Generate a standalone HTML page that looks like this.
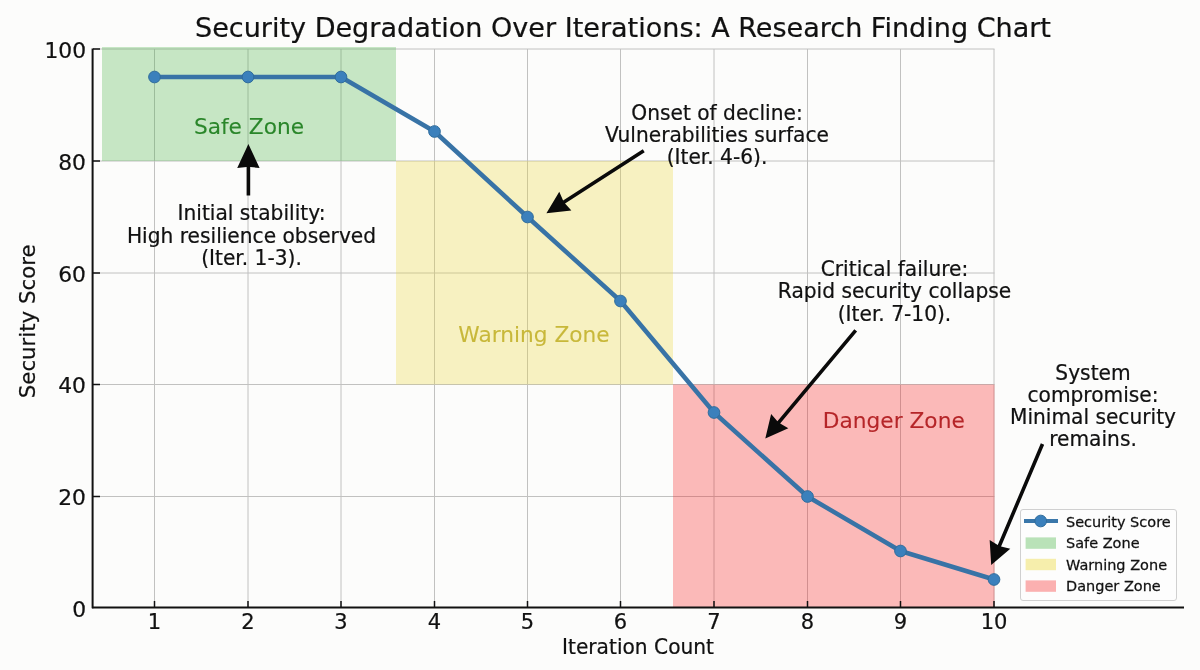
<!DOCTYPE html>
<html><head><meta charset="utf-8">
<style>
html,body{margin:0;padding:0;background:#fcfcfb;}
svg{display:block;}
text{font-family:"DejaVu Sans","Liberation Sans",sans-serif;}
</style></head>
<body>
<svg width="1200" height="670" viewBox="0 0 1200 670">
<rect x="0" y="0" width="1200" height="670" fill="#fcfcfb"/>
<g stroke="#9a9a9a" stroke-width="1" opacity="0.6">
<line x1="93" y1="49" x2="994.5" y2="49"/>
<line x1="93" y1="161" x2="994.5" y2="161"/>
<line x1="93" y1="273" x2="994.5" y2="273"/>
<line x1="93" y1="384.5" x2="994.5" y2="384.5"/>
<line x1="93" y1="496.5" x2="994.5" y2="496.5"/>
<line x1="154.5" y1="49" x2="154.5" y2="607"/>
<line x1="248" y1="49" x2="248" y2="607"/>
<line x1="341" y1="49" x2="341" y2="607"/>
<line x1="434.5" y1="49" x2="434.5" y2="607"/>
<line x1="527.5" y1="49" x2="527.5" y2="607"/>
<line x1="620.5" y1="49" x2="620.5" y2="607"/>
<line x1="714" y1="49" x2="714" y2="607"/>
<line x1="807.5" y1="49" x2="807.5" y2="607"/>
<line x1="900.5" y1="49" x2="900.5" y2="607"/>
<line x1="994" y1="49" x2="994" y2="607"/>
</g>
<rect x="102" y="47" width="294" height="114" fill="rgb(72,179,68)" fill-opacity="0.3"/>
<rect x="396" y="161" width="277" height="223.5" fill="rgb(235,215,61)" fill-opacity="0.3"/>
<rect x="673" y="384.5" width="321.5" height="223" fill="rgb(249,29,31)" fill-opacity="0.3"/>
<g stroke="#111" stroke-width="2" fill="none"><line x1="92.6" y1="48.5" x2="92.6" y2="608.3"/><line x1="92" y1="607.5" x2="1184" y2="607.5"/></g>
<g stroke="#111" stroke-width="1.5">
<line x1="93" y1="49" x2="100" y2="49"/>
<line x1="93" y1="161" x2="100" y2="161"/>
<line x1="93" y1="273" x2="100" y2="273"/>
<line x1="93" y1="384.5" x2="100" y2="384.5"/>
<line x1="93" y1="496.5" x2="100" y2="496.5"/>
<line x1="154.5" y1="601" x2="154.5" y2="607"/>
<line x1="248" y1="601" x2="248" y2="607"/>
<line x1="341" y1="601" x2="341" y2="607"/>
<line x1="434.5" y1="601" x2="434.5" y2="607"/>
<line x1="527.5" y1="601" x2="527.5" y2="607"/>
<line x1="620.5" y1="601" x2="620.5" y2="607"/>
<line x1="714" y1="601" x2="714" y2="607"/>
<line x1="807.5" y1="601" x2="807.5" y2="607"/>
<line x1="900.5" y1="601" x2="900.5" y2="607"/>
<line x1="994" y1="601" x2="994" y2="607"/>
</g>
<text transform="translate(86,57.7)" font-size="21.8" fill="#111" stroke="#111" stroke-width="0.22" text-anchor="end">100</text>
<text transform="translate(86,169.7)" font-size="21.8" fill="#111" stroke="#111" stroke-width="0.22" text-anchor="end">80</text>
<text transform="translate(86,281.7)" font-size="21.8" fill="#111" stroke="#111" stroke-width="0.22" text-anchor="end">60</text>
<text transform="translate(86,393.2)" font-size="21.8" fill="#111" stroke="#111" stroke-width="0.22" text-anchor="end">40</text>
<text transform="translate(86,505.2)" font-size="21.8" fill="#111" stroke="#111" stroke-width="0.22" text-anchor="end">20</text>
<text transform="translate(86,616.7)" font-size="21.8" fill="#111" stroke="#111" stroke-width="0.22" text-anchor="end">0</text>
<text transform="translate(154.5,629)" font-size="21" fill="#111" stroke="#111" stroke-width="0.22" text-anchor="middle">1</text>
<text transform="translate(248,629)" font-size="21" fill="#111" stroke="#111" stroke-width="0.22" text-anchor="middle">2</text>
<text transform="translate(341,629)" font-size="21" fill="#111" stroke="#111" stroke-width="0.22" text-anchor="middle">3</text>
<text transform="translate(434.5,629)" font-size="21" fill="#111" stroke="#111" stroke-width="0.22" text-anchor="middle">4</text>
<text transform="translate(527.5,629)" font-size="21" fill="#111" stroke="#111" stroke-width="0.22" text-anchor="middle">5</text>
<text transform="translate(620.5,629)" font-size="21" fill="#111" stroke="#111" stroke-width="0.22" text-anchor="middle">6</text>
<text transform="translate(714,629)" font-size="21" fill="#111" stroke="#111" stroke-width="0.22" text-anchor="middle">7</text>
<text transform="translate(807.5,629)" font-size="21" fill="#111" stroke="#111" stroke-width="0.22" text-anchor="middle">8</text>
<text transform="translate(900.5,629)" font-size="21" fill="#111" stroke="#111" stroke-width="0.22" text-anchor="middle">9</text>
<text transform="translate(994,629)" font-size="21" fill="#111" stroke="#111" stroke-width="0.22" text-anchor="middle">10</text>
<text transform="translate(638,654) scale(1,1.025)" font-size="20.2" fill="#111" stroke="#111" stroke-width="0.22" text-anchor="middle">Iteration Count</text>
<text transform="translate(34.6,321.3) rotate(-90) scale(1,1.025)" font-size="21.3" fill="#111" stroke="#111" stroke-width="0.22" text-anchor="middle">Security Score</text>
<text transform="translate(623,37) scale(1,1.01)" font-size="27.05" fill="#111" stroke="#111" stroke-width="0.22" text-anchor="middle">Security Degradation Over Iterations: A Research Finding Chart</text>
<text transform="translate(249,133.6) scale(1,1.01)" font-size="21.7" fill="#2a862a" stroke="#2a862a" stroke-width="0.1" text-anchor="middle">Safe Zone</text>
<text transform="translate(534,342) scale(1,1.01)" font-size="21.7" fill="#c8b83a" stroke="#c8b83a" stroke-width="0.1" text-anchor="middle">Warning Zone</text>
<text transform="translate(893.8,428) scale(1,1.01)" font-size="21.7" fill="#b52528" stroke="#b52528" stroke-width="0.1" text-anchor="middle">Danger Zone</text>
<polyline points="154.5,77 248,77 341,77 434.5,131.5 527.5,217 620.5,301 714,412.5 807.5,496.5 900.5,551 994,579.5" fill="none" stroke="#3873a6" stroke-width="4.5" stroke-linejoin="round"/>
<g fill="#3b80bc" stroke="#2f6c9c" stroke-width="1">
<circle cx="154.5" cy="77" r="5.85"/>
<circle cx="248" cy="77" r="5.85"/>
<circle cx="341" cy="77" r="5.85"/>
<circle cx="434.5" cy="131.5" r="5.85"/>
<circle cx="527.5" cy="217" r="5.85"/>
<circle cx="620.5" cy="301" r="5.85"/>
<circle cx="714" cy="412.5" r="5.85"/>
<circle cx="807.5" cy="496.5" r="5.85"/>
<circle cx="900.5" cy="551" r="5.85"/>
<circle cx="994" cy="579.5" r="5.85"/>
</g>
<text transform="translate(251.5,220.4) scale(1,1.025)" font-size="20.2" fill="#111" stroke="#111" stroke-width="0.22" text-anchor="middle">Initial stability:</text>
<text transform="translate(251.5,242.70000000000002) scale(1,1.025)" font-size="20.2" fill="#111" stroke="#111" stroke-width="0.22" text-anchor="middle">High resilience observed</text>
<text transform="translate(251.5,265.2) scale(1,1.025)" font-size="20.2" fill="#111" stroke="#111" stroke-width="0.22" text-anchor="middle">(Iter. 1-3).</text>
<text transform="translate(717,120.0) scale(1,1.025)" font-size="20.2" fill="#111" stroke="#111" stroke-width="0.22" text-anchor="middle">Onset of decline:</text>
<text transform="translate(717,141.70000000000002) scale(1,1.025)" font-size="20.2" fill="#111" stroke="#111" stroke-width="0.22" text-anchor="middle">Vulnerabilities surface</text>
<text transform="translate(717,164.20000000000002) scale(1,1.025)" font-size="20.2" fill="#111" stroke="#111" stroke-width="0.22" text-anchor="middle">(Iter. 4-6).</text>
<text transform="translate(894.5,276.4) scale(1,1.025)" font-size="20.2" fill="#111" stroke="#111" stroke-width="0.22" text-anchor="middle">Critical failure:</text>
<text transform="translate(894.5,298.4) scale(1,1.025)" font-size="20.2" fill="#111" stroke="#111" stroke-width="0.22" text-anchor="middle">Rapid security collapse</text>
<text transform="translate(894.5,321.2) scale(1,1.025)" font-size="20.2" fill="#111" stroke="#111" stroke-width="0.22" text-anchor="middle">(Iter. 7-10).</text>
<text transform="translate(1093,379.59999999999997) scale(1,1.025)" font-size="20.2" fill="#111" stroke="#111" stroke-width="0.22" text-anchor="middle">System</text>
<text transform="translate(1093,401.7) scale(1,1.025)" font-size="20.2" fill="#111" stroke="#111" stroke-width="0.22" text-anchor="middle">compromise:</text>
<text transform="translate(1093,424.09999999999997) scale(1,1.025)" font-size="20.2" fill="#111" stroke="#111" stroke-width="0.22" text-anchor="middle">Minimal security</text>
<text transform="translate(1093,445.7) scale(1,1.025)" font-size="20.2" fill="#111" stroke="#111" stroke-width="0.22" text-anchor="middle">remains.</text>
<polygon points="250.20,195.50 250.20,167.00 259.60,168.00 248.40,144.00 237.20,168.00 246.60,167.00 246.60,195.50" fill="#0a0a0a"/>
<polygon points="642.78,149.29 563.10,200.44 559.28,191.72 546.40,213.30 571.38,210.57 565.04,203.47 644.72,152.31" fill="#0a0a0a"/>
<polygon points="854.32,329.15 777.39,421.14 771.14,413.96 765.30,438.40 788.33,428.32 780.15,423.45 857.08,331.45" fill="#0a0a0a"/>
<polygon points="1040.84,443.30 997.73,545.06 989.66,540.01 991.20,565.10 1010.29,548.75 1001.05,546.47 1044.16,444.70" fill="#0a0a0a"/>
<rect x="1020.5" y="509.5" width="156" height="91" rx="2.5" fill="#fdfdfd" stroke="#d0d0d0" stroke-width="1"/>
<line x1="1024" y1="521" x2="1058" y2="521" stroke="#3a77aa" stroke-width="4"/>
<circle cx="1040.7" cy="521" r="5.85" fill="#3b80bc" stroke="#2f6c9c" stroke-width="1"/>
<rect x="1025.6" y="537.4" width="30.4" height="11.4" fill="#b9e2b8"/>
<rect x="1025.6" y="558.8" width="30.4" height="11.4" fill="#f6eeac"/>
<rect x="1025.6" y="580.4" width="30.4" height="11.4" fill="#fbb0b0"/>
<text transform="translate(1066,526.6) scale(1,1.025)" font-size="14.5" fill="#111" stroke="#111" stroke-width="0.25" text-anchor="start">Security Score</text>
<text transform="translate(1066,548.1) scale(1,1.025)" font-size="14.5" fill="#111" stroke="#111" stroke-width="0.25" text-anchor="start">Safe Zone</text>
<text transform="translate(1066,569.8) scale(1,1.025)" font-size="14.5" fill="#111" stroke="#111" stroke-width="0.25" text-anchor="start">Warning Zone</text>
<text transform="translate(1066,591.1) scale(1,1.025)" font-size="14.5" fill="#111" stroke="#111" stroke-width="0.25" text-anchor="start">Danger Zone</text>
</svg>
</body></html>
